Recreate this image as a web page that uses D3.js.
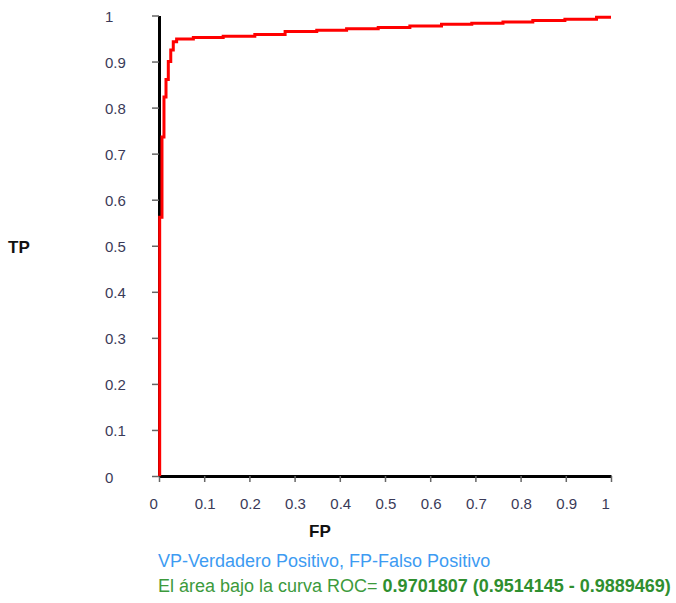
<!DOCTYPE html>
<html>
<head>
<meta charset="utf-8">
<script src="https://cdn.jsdelivr.net/npm/d3@7"></script>
<style>
  body { margin: 0; background: #fff; }
  svg { font-family: Arial, 'Liberation Sans', sans-serif; }
</style>
</head>
<body>
<div id="rocChart"></div>
<script>
// ROC curve vertices (step-after)
const fpValues = [0.0015, 0.0015, 0.0066, 0.011, 0.0155, 0.0206, 0.026, 0.0316, 0.039,
    0.076, 0.142, 0.212, 0.279, 0.349, 0.415, 0.485, 0.555, 0.625, 0.692, 0.761, 0.827, 0.898, 0.968, 1.0];
const tpValues = [0, 0.562, 0.736, 0.823, 0.861, 0.9, 0.925, 0.943, 0.949,
    0.952, 0.955, 0.959, 0.965, 0.968, 0.971, 0.974, 0.977, 0.981, 0.983, 0.986, 0.989, 0.992, 0.996, 0.996];

const tickValues = [0, 0.1, 0.2, 0.3, 0.4, 0.5, 0.6, 0.7, 0.8, 0.9, 1];
const tickLabels = ['0', '0.1', '0.2', '0.3', '0.4', '0.5', '0.6', '0.7', '0.8', '0.9', '1'];

const xTitle = 'FP';
const yTitle = 'TP';
const noteText = 'VP-Verdadero Positivo, FP-Falso Positivo';
const aucLabel = 'El área bajo la curva ROC= ';
const aucValue = '0.9701807 (0.9514145 - 0.9889469)';

const margin = { top: 15.5, left: 159 };
const width = 452, height = 460.5;

const svg = d3.select('#rocChart')
    .append('svg')
    .attr('width', 676)
    .attr('height', 603);

const g = svg.append('g')
    .attr('transform', `translate(${margin.left},${margin.top})`);

const x = d3.scaleLinear().domain([0, 1]).range([0, width]);
const y = d3.scaleLinear().domain([0, 1]).range([height, 0]);

// x axis
const xAxis = g.append('g')
    .attr('transform', `translate(0,${height})`)
    .call(d3.axisBottom(x).tickValues(tickValues).tickSize(6).tickSizeOuter(0)
        .tickFormat((d, i) => tickLabels[i]));

// y axis
const yAxis = g.append('g')
    .call(d3.axisLeft(y).tickValues(tickValues).tickSize(7).tickSizeOuter(0)
        .tickFormat((d, i) => tickLabels[i]));

[xAxis, yAxis].forEach(ax => {
    ax.select('.domain').attr('stroke', '#000').attr('stroke-width', 3);
    ax.selectAll('.tick line').attr('stroke', '#666').attr('stroke-width', 1.5);
    ax.selectAll('.tick text')
        .attr('fill', '#3a3a58')
        .style('font-size', '15px')
        .attr('text-anchor', 'start');
});

xAxis.selectAll('.tick text').attr('x', -10).attr('y', 32.5).attr('dy', 0);
yAxis.selectAll('.tick text').attr('x', -54).attr('dy', '0.4em');

// curve
const line = d3.line()
    .x(d => x(d[0]))
    .y(d => y(d[1]))
    .curve(d3.curveStepAfter);

const points = fpValues.map((fp, i) => [fp, tpValues[i]]);

g.append('path')
    .datum(points)
    .attr('fill', 'none')
    .attr('stroke', '#ff0000')
    .attr('stroke-width', 3)
    .attr('d', line);

// axis titles
svg.append('text')
    .attr('x', 8)
    .attr('y', 253)
    .style('font-size', '17px')
    .style('font-weight', 'bold')
    .attr('fill', '#111')
    .text(yTitle);

svg.append('text')
    .attr('x', 309)
    .attr('y', 537)
    .style('font-size', '17px')
    .style('font-weight', 'bold')
    .attr('fill', '#111')
    .text(xTitle);

// notes under the chart
svg.append('text')
    .attr('x', 158)
    .attr('y', 567)
    .style('font-size', '18px')
    .attr('fill', '#3d9bf2')
    .text(noteText);

const auc = svg.append('text')
    .attr('x', 158)
    .attr('y', 592)
    .style('font-size', '18px')
    .attr('fill', '#3c9a3c');
auc.append('tspan').text(aucLabel);
auc.append('tspan')
    .style('font-weight', 'bold')
    .attr('fill', '#2f8f2f')
    .text(aucValue);
</script>
</body>
</html>
